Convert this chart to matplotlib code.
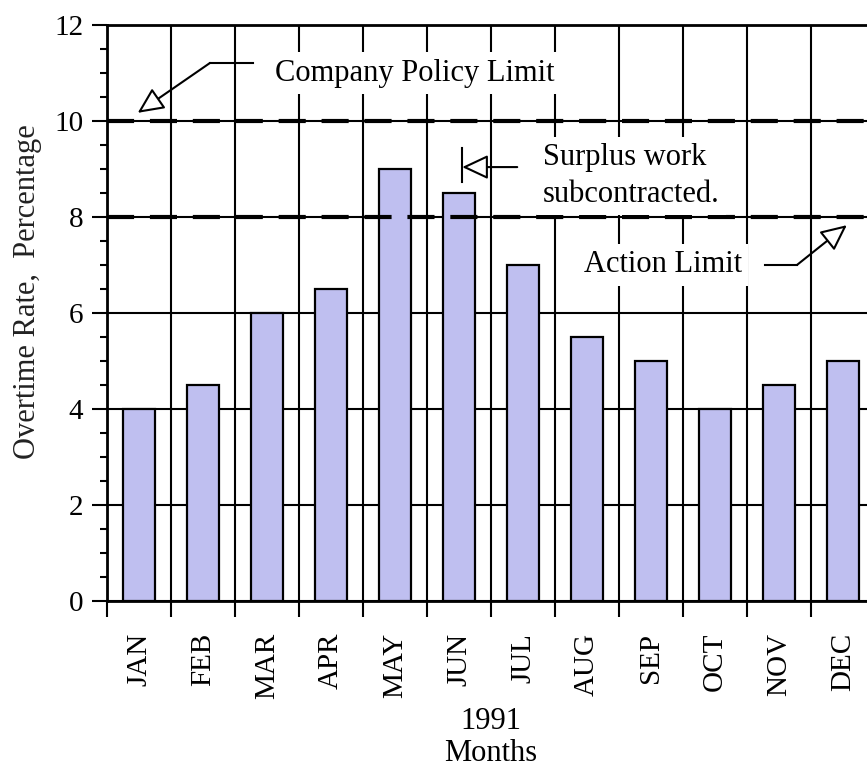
import matplotlib
matplotlib.use('Agg')
import matplotlib.pyplot as plt
import numpy as np

# Monthly overtime, 1991
months = ['JAN', 'FEB', 'MAR', 'APR', 'MAY', 'JUN',
          'JUL', 'AUG', 'SEP', 'OCT', 'NOV', 'DEC']
overtime = [4, 4.5, 6, 6.5, 9, 8.5, 7, 5.5, 5, 4, 4.5, 5]
policy_limit = 10
action_limit = 8

plt.rcParams['font.family'] = 'Liberation Serif'

fig = plt.figure(figsize=(8.67, 7.69), dpi=100)
ax = fig.add_axes([107 / 867, 1 - 601 / 769, 768 / 867, 576 / 769])

x = np.arange(len(months))
ax.bar(x, overtime, width=0.5, color='#bfbff0', edgecolor='black',
       linewidth=1.6, zorder=3)

ax.set_xlim(-0.5, len(months) - 0.5)
ax.set_ylim(0, 12)

# y axis: labelled every 2, small ticks every 0.5
ax.set_yticks(np.arange(0, 13, 2))
ax.set_yticks(np.arange(0, 12.5, 0.5), minor=True)
ax.tick_params(axis='y', which='major', length=11, width=1.5, pad=6,
               labelsize=21)
ax.tick_params(axis='y', which='minor', length=5, width=1.5)

# x axis: ticks between months, names centred under bars
ax.set_xticks(np.arange(-0.5, len(months), 1))
ax.set_xticklabels([])
ax.set_xticks(x, minor=True)
ax.set_xticklabels(months, minor=True, rotation=90, va='top', fontsize=21)
ax.tick_params(axis='x', which='major', length=11.5, width=1.5)
ax.tick_params(axis='x', which='minor', length=0, pad=23)

ax.grid(True, which='major', color='black', linewidth=1.5, zorder=1)
ax.set_axisbelow(True)
for side in ax.spines.values():
    side.set_linewidth(2)

# limit lines
ax.axhline(policy_limit, color='black', linewidth=3,
           linestyle=(0, (6.5, 3.8)), zorder=4)
ax.axhline(action_limit, color='black', linewidth=3,
           linestyle=(0, (6.5, 3.8)), zorder=4)

box = dict(boxstyle='square,pad=0.2', fc='white', ec='none')
head = dict(arrowstyle='-|>,head_length=1.6,head_width=0.75',
            fc='white', ec='black', lw=1.5, shrinkA=0, shrinkB=0,
            mutation_scale=10)

ax.text(4.31, 11.0, 'Company Policy Limit', ha='center', va='center',
        fontsize=22, bbox=box, zorder=5)
ax.plot([1.78, 1.11], [11.21, 11.21], color='black', lw=1.5, zorder=6)
ax.annotate('', xy=(-0.02, 10.17), xytext=(1.11, 11.21),
            arrowprops=head, zorder=6)

ax.text(6.31, 8.85, 'Surplus work\nsubcontracted.', ha='left', va='center',
        fontsize=22, linespacing=1.35, bbox=box, zorder=5)
ax.annotate('', xy=(5.05, 9.04), xytext=(5.91, 9.04),
            arrowprops=head, zorder=6)
ax.plot([5.05, 5.05], [8.73, 9.44], color='black', lw=1.5, zorder=6)

ax.text(8.19, 7.0, 'Action Limit', ha='center', va='center',
        fontsize=22, bbox=box, zorder=5)
ax.plot([9.78, 10.28], [7.0, 7.0], color='black', lw=1.5, zorder=6)
ax.annotate('', xy=(11.06, 7.83), xytext=(10.28, 7.0),
            arrowprops=head, zorder=6)

fig.text(491 / 867, 1 - 707 / 769, '1991\nMonths', ha='center', va='top',
         fontsize=22, linespacing=1.15)
fig.text(28 / 867, 1 - 292 / 769, 'Overtime Rate,  Percentage', rotation=90,
         ha='center', va='center', fontsize=22, color='#222222')

fig.savefig('out.png', dpi=100)
